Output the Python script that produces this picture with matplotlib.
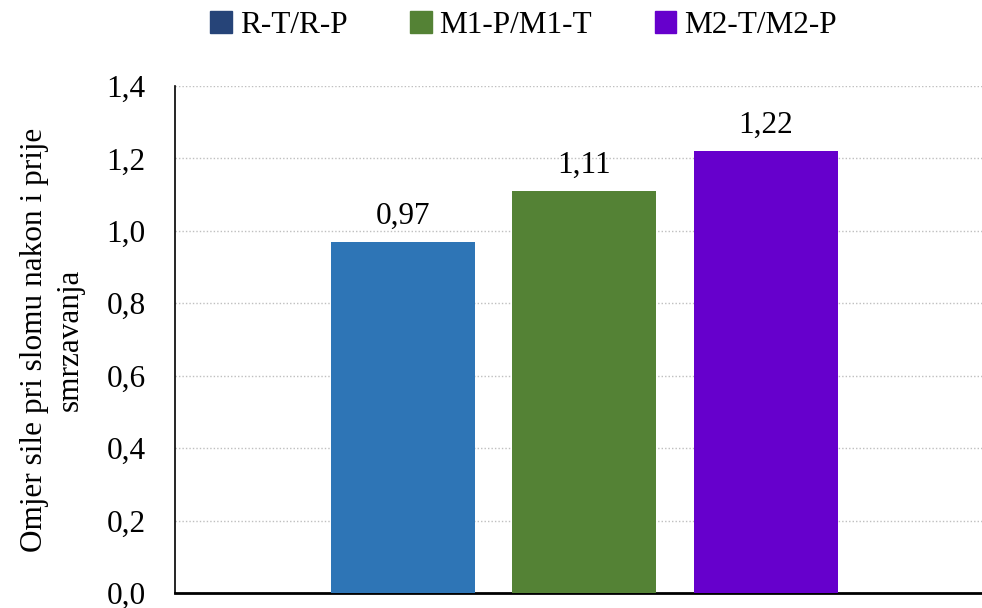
import matplotlib
matplotlib.use("Agg")
import matplotlib.pyplot as plt
from matplotlib.patches import Patch

series = ["R-T/R-P", "M1-P/M1-T", "M2-T/M2-P"]
values = [0.97, 1.11, 1.22]
bar_colors = ["#2E75B6", "#548235", "#6600CC"]
legend_colors = ["#264478", "#548235", "#6600CC"]
yticks = [0.0, 0.2, 0.4, 0.6, 0.8, 1.0, 1.2, 1.4]

plt.rcParams['font.family'] = ['Liberation Serif', 'DejaVu Serif']
fs = 22.5

fig = plt.figure(figsize=(9.82, 6.08), dpi=100)
ax = fig.add_axes([0.178, 0.0247, 0.822, 0.834])

x = list(range(len(values)))
ax.bar(x, values, width=0.793, color=bar_colors, zorder=3)
for xi, v in zip(x, values):
    ax.text(xi, v + 0.03, f"{v:.2f}".replace(".", ","), ha="center", va="bottom",
            fontsize=fs)

ax.set_xlim(-1.256, 3.19)
ax.set_ylim(0, 1.4)
ax.set_yticks(yticks)
ax.set_yticklabels([f"{t:.1f}".replace(".", ",") for t in yticks], fontsize=fs)
ax.set_xticks([])
ax.tick_params(axis="y", length=0, pad=21)
ax.yaxis.grid(True, linestyle=(0, (1, 1.5)), color="#BFBFBF", linewidth=1, zorder=0)

for s in ["top", "right"]:
    ax.spines[s].set_visible(False)
ax.spines["left"].set_linewidth(1.2)
ax.spines["bottom"].set_linewidth(2)

ax.set_ylabel("Omjer sile pri slomu nakon i prije\nsmrzavanja", fontsize=fs,
              linespacing=1.3, labelpad=16)

handles = [Patch(color=c, label=l) for c, l in zip(legend_colors, series)]
fig.legend(handles=handles, loc="center", bbox_to_anchor=(0.533, 0.958), ncol=3,
           frameon=False, fontsize=fs, handlelength=0.7, handleheight=0.7,
           handletextpad=0.25, columnspacing=2.0)

fig.savefig("out.png", dpi=100)
